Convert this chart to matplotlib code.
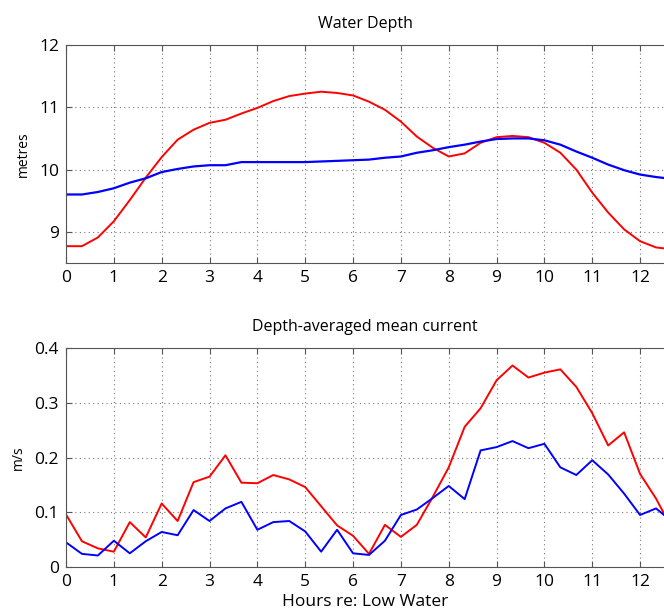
import numpy as np
import matplotlib.pyplot as plt

plt.rcParams['font.family'] = ['Open Sans', 'DejaVu Sans']

# hours re: low water, every 20 minutes
hours = np.arange(39) / 3.0

depth_red = [8.77, 8.77, 8.91, 9.17, 9.51, 9.87, 10.20, 10.48, 10.64, 10.75,
             10.80, 10.90, 10.99, 11.10, 11.18, 11.22, 11.25, 11.23, 11.19, 11.09,
             10.96, 10.77, 10.53, 10.35, 10.21, 10.26, 10.43, 10.52, 10.54, 10.52,
             10.43, 10.27, 10.00, 9.63, 9.31, 9.04, 8.85, 8.75, 8.72]
depth_blue = [9.60, 9.60, 9.64, 9.70, 9.79, 9.86, 9.96, 10.01, 10.05, 10.07,
              10.07, 10.12, 10.12, 10.12, 10.12, 10.12, 10.13, 10.14, 10.15, 10.16,
              10.19, 10.21, 10.27, 10.31, 10.36, 10.40, 10.45, 10.49, 10.50, 10.50,
              10.47, 10.40, 10.29, 10.19, 10.08, 9.99, 9.92, 9.88, 9.85]

current_red = [0.096, 0.047, 0.034, 0.028, 0.082, 0.054, 0.116, 0.084, 0.155, 0.165,
               0.204, 0.154, 0.153, 0.168, 0.160, 0.146, 0.111, 0.076, 0.057, 0.024,
               0.077, 0.055, 0.077, 0.128, 0.182, 0.256, 0.290, 0.341, 0.368, 0.346,
               0.355, 0.361, 0.329, 0.281, 0.222, 0.246, 0.170, 0.125, 0.070]
current_blue = [0.045, 0.024, 0.021, 0.048, 0.025, 0.047, 0.064, 0.058, 0.104, 0.084,
                0.107, 0.119, 0.068, 0.082, 0.084, 0.065, 0.028, 0.068, 0.025, 0.022,
                0.048, 0.095, 0.105, 0.126, 0.148, 0.124, 0.213, 0.219, 0.230, 0.217,
                0.225, 0.182, 0.168, 0.195, 0.169, 0.134, 0.095, 0.107, 0.083]

fig = plt.figure(figsize=(6.64, 6.16), dpi=100)
W, H = 664.0, 616.0
ax1 = fig.add_axes([66 / W, 1 - 263 / H, (664 - 66) / W, (263 - 45) / H])
ax2 = fig.add_axes([66 / W, 1 - 567 / H, (664 - 66) / W, (567 - 348) / H])


def style(ax):
    ax.set_xlim(0, 12.5)
    ax.set_xticks(range(13))
    ax.grid(True, linestyle=(0, (1, 3)), color='#777777', linewidth=0.8)
    ax.tick_params(direction='in', top=True, right=False, length=4,
                   labelsize=12.5, color='#555555', pad=5)
    for s in ['left', 'bottom', 'top']:
        ax.spines[s].set_color('#555555')
    ax.spines['right'].set_visible(False)


ax1.plot(hours, depth_red, color='red', lw=1.4)
ax1.plot(hours, depth_blue, color='blue', lw=1.6)
ax1.set_ylim(8.5, 12)
ax1.set_yticks([9, 10, 11, 12])
style(ax1)
ax1.set_title('Water Depth', fontsize=11.5, pad=12)
ax1.set_ylabel('metres', fontsize=10, labelpad=6)

ax2.plot(hours, current_red, color='red', lw=1.4)
ax2.plot(hours, current_blue, color='blue', lw=1.4)
ax2.set_ylim(0, 0.4)
ax2.set_yticks([0, 0.1, 0.2, 0.3, 0.4])
ax2.set_yticklabels(['0', '0.1', '0.2', '0.3', '0.4'])
style(ax2)
ax2.set_title('Depth-averaged mean current', fontsize=11.5, pad=12)
ax2.set_ylabel('m/s', fontsize=10, labelpad=6)
ax2.set_xlabel('Hours re: Low Water', fontsize=12.5, labelpad=3)

fig.savefig('out.png', dpi=100)
